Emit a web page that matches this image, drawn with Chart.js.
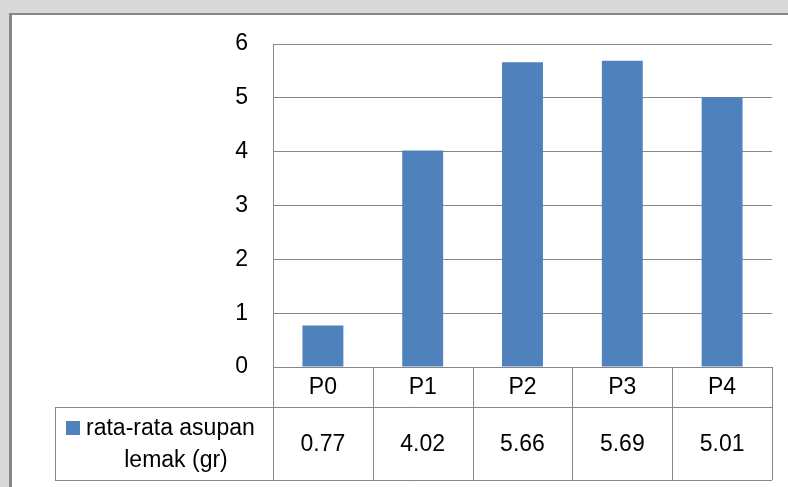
<!DOCTYPE html>
<html>
<head>
<meta charset="utf-8">
<script src="https://cdn.jsdelivr.net/npm/chart.js@4"></script>
<style>
  html, body { margin: 0; padding: 0; background: #d9d9d9; }
  #wrap { position: relative; width: 788px; height: 487px; overflow: hidden; }
  #box { position: absolute; left: 9px; top: 13px; width: 800px; height: 500px;
         background: #fff; border-left: 3px solid #868686; border-top: 2px solid #868686; }
  #chart { position: absolute; left: 0; top: 0; }
</style>
</head>
<body>
<div id="wrap">
  <div id="box"></div>
  <canvas id="chart" width="788" height="487"></canvas>
</div>
<script>
const categories = ['P0', 'P1', 'P2', 'P3', 'P4'];
const fatIntake = [0.77, 4.02, 5.66, 5.69, 5.01];
const valueLabels = ['0.77', '4.02', '5.66', '5.69', '5.01'];
const seriesName = ['rata-rata asupan', 'lemak (gr)'];

const lineColor = '#868686';
const barColor = '#4f81bd';
const font = '23px "Liberation Sans", Arial, sans-serif';

// draws the data table under the plot, Excel style
const dataTable = {
    id: 'dataTable',
    afterDraw(chart) {
        const ctx = chart.ctx;
        const x = chart.scales.x;
        const area = chart.chartArea;
        const top = area.bottom;
        const mid = top + 40;
        const bottom = top + 113;
        const tableLeft = 55;
        const half = (area.right - area.left) / categories.length / 2;

        ctx.save();
        ctx.strokeStyle = lineColor;
        ctx.lineWidth = 1;
        ctx.beginPath();
        ctx.moveTo(area.left, top + 0.5); ctx.lineTo(area.right, top + 0.5);
        ctx.moveTo(tableLeft, mid + 0.5); ctx.lineTo(area.right, mid + 0.5);
        ctx.moveTo(tableLeft, bottom + 0.5); ctx.lineTo(area.right, bottom + 0.5);
        ctx.moveTo(tableLeft + 0.5, mid); ctx.lineTo(tableLeft + 0.5, bottom);
        for (let i = 0; i <= categories.length; i++) {
            const px = Math.round(area.left + i * half * 2) + 0.5;
            ctx.moveTo(px, top); ctx.lineTo(px, bottom);
        }
        ctx.stroke();

        ctx.font = font;
        ctx.fillStyle = '#000';
        ctx.textAlign = 'center';
        ctx.textBaseline = 'middle';
        categories.forEach((c, i) => {
            const cx = x.getPixelForValue(i);
            ctx.fillText(c, cx, top + 21);
            ctx.fillText(valueLabels[i], cx, mid + 38);
        });

        // legend key inside the table
        ctx.fillStyle = barColor;
        ctx.fillRect(66, mid + 14, 14, 14);
        ctx.fillStyle = '#000';
        ctx.textAlign = 'left';
        ctx.fillText(seriesName[0], 86, mid + 22);
        ctx.textAlign = 'center';
        ctx.fillText(seriesName[1], 176, mid + 54);
        ctx.restore();
    }
};

new Chart(document.getElementById('chart'), {
    type: 'bar',
    data: {
        labels: categories,
        datasets: [{
            label: seriesName.join(' '),
            data: fatIntake,
            backgroundColor: barColor,
            barPercentage: 0.41,
            categoryPercentage: 1
        }]
    },
    options: {
        responsive: false,
        animation: false,
        layout: { padding: { left: 0, top: 44, right: 16, bottom: 0 } },
        plugins: {
            legend: { display: false },
            tooltip: { enabled: false }
        },
        scales: {
            x: {
                grid: { display: false },
                border: { display: false },
                ticks: { display: false },
                afterFit: scale => { scale.height = 120; }
            },
            y: {
                min: 0,
                max: 6,
                ticks: {
                    stepSize: 1,
                    color: '#000',
                    padding: 25,
                    font: { family: '"Liberation Sans", Arial, sans-serif', size: 23 }
                },
                grid: { color: lineColor, drawTicks: false },
                border: { display: true, color: lineColor },
                afterFit: scale => { scale.width = 273; }
            }
        }
    },
    plugins: [dataTable]
});
</script>
</body>
</html>
